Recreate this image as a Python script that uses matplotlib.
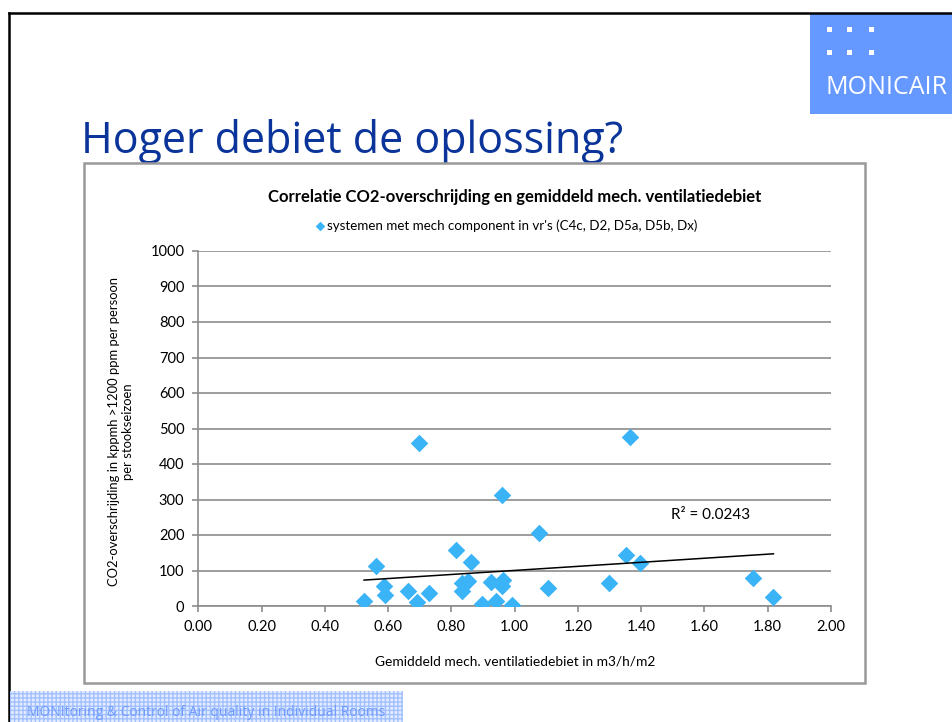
import numpy as np
import matplotlib
matplotlib.use("Agg")
import matplotlib.pyplot as plt
from matplotlib.patches import Rectangle

# data
flow = [0.524, 0.562, 0.588, 0.590, 0.664, 0.692, 0.698, 0.730, 0.815, 0.832,
        0.834, 0.853, 0.862, 0.898, 0.925, 0.941, 0.959, 0.964, 0.960, 0.991,
        1.076, 1.104, 1.297, 1.352, 1.365, 1.396, 1.754, 1.818]
co2 = [14, 114, 56, 31, 42, 10, 458, 36, 159, 64,
       41, 71, 123, 5, 68, 15, 56, 73, 312, 2,
       207, 51, 66, 145, 477, 121, 80, 25]
trend_x = [0.524, 1.818]
trend_y = [73, 147]
xticks = [0.0, 0.2, 0.4, 0.6, 0.8, 1.0, 1.2, 1.4, 1.6, 1.8, 2.0]
yticks = [0, 100, 200, 300, 400, 500, 600, 700, 800, 900, 1000]
r2_text = "R² = 0.0243"

font = ["Lato", "DejaVu Sans"]
plt.rcParams["font.family"] = font

W, H = 952, 722
fig = plt.figure(figsize=(W / 100, H / 100), dpi=100)

# slide decoration, in pixel coordinates
bg = fig.add_axes([0, 0, 1, 1])
bg.set_xlim(0, W)
bg.set_ylim(H, 0)
bg.axis("off")
bg.plot([9, W], [13, 13], color="black", lw=1.8)
bg.plot([9, 9], [13, H], color="black", lw=1.8)

bg.add_patch(Rectangle((810, 14), W - 810, 100, color="#6699ff", lw=0))
for dx in [829, 849, 871]:
    for dy in [29, 52]:
        bg.add_patch(Rectangle((dx - 2.5, dy - 2.5), 5, 5, color="white", lw=0))
bg.text(825, 88, "MONICAIR", color="white", fontsize=18, family=["Open Sans", "DejaVu Sans"],
        va="center", ha="left")

bg.text(81, 153, "Hoger debiet de oplossing?", color="#0a3499", fontsize=31,
        family=["Open Sans", "DejaVu Sans"], va="baseline", ha="left")

bg.add_patch(Rectangle((83.5, 163), 781, 520, facecolor="white", edgecolor="#999999", lw=1.8, zorder=3))

bg.add_patch(Rectangle((10, 691), 393, 31, facecolor="#e3edff", edgecolor="#a3c0ff",
                       hatch="++++", lw=0, zorder=3))
bg.text(27, 712, "MONItoring & Control of Air quality in Individual Rooms", color="#6f9bff",
        fontsize=10, family=["Open Sans", "DejaVu Sans"], va="center", ha="left", zorder=4)

# chart text
bg.text(515, 197, "Correlatie CO2-overschrijding en gemiddeld mech. ventilatiedebiet",
        fontsize=12, fontweight="bold", ha="center", va="center", zorder=4)
bg.scatter([320], [226], marker="D", s=24, color="#3bb4f7", zorder=4, lw=0)
bg.text(327, 226, "systemen met mech component in vr's (C4c, D2, D5a, D5b, Dx)",
        fontsize=9.6, ha="left", va="center", zorder=4)
bg.text(121, 432, "CO2-overschrijding in kppmh >1200 ppm per persoon\nper stookseizoen",
        fontsize=9.4, rotation=90, ha="center", va="center", multialignment="center",
        linespacing=1.25, zorder=4)
bg.text(515, 661, "Gemiddeld mech. ventilatiedebiet in m3/h/m2", fontsize=9.9,
        ha="center", va="center", zorder=4)

# the scatter chart itself
ax = fig.add_axes([198.3 / W, 1 - 606 / H, (831 - 198.3) / W, (606 - 251) / H])
ax.set_zorder(5)
ax.patch.set_alpha(0)
ax.set_xlim(0, 2)
ax.set_ylim(0, 1000)
ax.set_xticks(xticks)
ax.set_xticklabels([f"{v:.2f}" for v in xticks])
ax.set_yticks(yticks)
ax.grid(axis="y", color="#8c8c8c", lw=1.2)
ax.set_axisbelow(True)
for s in ["top", "right"]:
    ax.spines[s].set_visible(False)
for s in ["left", "bottom"]:
    ax.spines[s].set_color("#8c8c8c")
    ax.spines[s].set_linewidth(1.2)
ax.tick_params(color="#8c8c8c", width=1.2, length=4, labelsize=10.5, pad=6)

ax.scatter(flow, co2, marker="D", s=80, color="#3bb4f7", lw=0, zorder=3)
ax.plot(trend_x, trend_y, color="black", lw=1.1, zorder=4)
ax.text(1.495, 256, r2_text, fontsize=11, ha="left", va="center")

fig.savefig("out.png", dpi=100)
